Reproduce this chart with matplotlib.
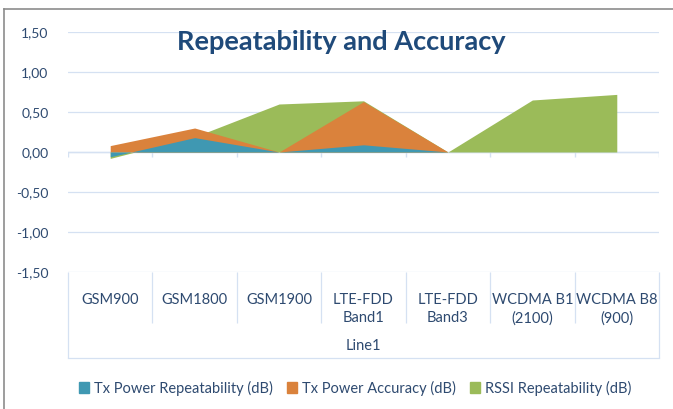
import matplotlib.pyplot as plt
import numpy as np
from matplotlib.patches import Patch

# Data
categories = ['GSM900', 'GSM1800', 'GSM1900', 'LTE-FDD\nBand1', 'LTE-FDD\nBand3',
              'WCDMA B1\n(2100)', 'WCDMA B8\n(900)']
group_label = 'Line1'
tx_rep = [-0.06, 0.18, 0.00, 0.09, 0.00, 0.00, 0.00]
tx_acc = [0.08, 0.30, 0.00, 0.63, 0.00, 0.00, 0.00]
rssi_rep = [-0.08, 0.19, 0.60, 0.64, 0.00, 0.65, 0.72]
series_names = ['Tx Power Repeatability (dB)', 'Tx Power Accuracy (dB)',
                'RSSI Repeatability (dB)']
yticks = [-1.5, -1.0, -0.5, 0.0, 0.5, 1.0, 1.5]
ytick_labels = ['-1,50', '-1,00', '-0,50', '0,00', '0,50', '1,00', '1,50']

colors = ['#3F98B2', '#DA823C', '#9BBB59']
text_col = '#2E4A70'
grid_col = '#D5E1F2'

plt.rcParams['font.family'] = ['Lato', 'DejaVu Sans']

W, H = 673, 409
fig = plt.figure(figsize=(W / 100, H / 100), dpi=100)
ax = fig.add_axes([68 / W, 1 - 272 / H, (659 - 68) / W, (272 - 32) / H])

x = np.arange(len(categories))
# back to front: RSSI, accuracy, repeatability
for vals, c in zip([rssi_rep, tx_acc, tx_rep], colors[::-1]):
    ax.fill_between(x, vals, 0, color=c, linewidth=0, zorder=3)

ax.set_xlim(-0.5, len(categories) - 0.5)
ax.set_ylim(-1.5, 1.5)
ax.set_yticks(yticks)
ax.set_yticklabels(ytick_labels, color=text_col, fontsize=10)
ax.tick_params(axis='y', length=0, pad=14)
ax.grid(axis='y', color=grid_col, linewidth=0.9, zorder=0)
for s in ax.spines.values():
    s.set_visible(False)

# category axis crossing at zero with tick marks on boundaries
bounds = np.arange(len(categories) + 1) - 0.5
ax.axhline(0, color=grid_col, linewidth=1.0, zorder=1)
ax.vlines(bounds, -0.06, 0, color=grid_col, linewidth=1.0, zorder=1)

# category labels in low position
ax.set_xticks(x)
ax.set_xticklabels(categories, color=text_col, fontsize=10.5, linespacing=1.4)
ax.tick_params(axis='x', length=0, pad=15)

tr = ax.get_xaxis_transform()
ax.vlines(bounds[1:-1], -51 / 240, 0, color=grid_col, linewidth=0.9,
          transform=tr, clip_on=False)
ax.vlines(bounds[[0, -1]], -86 / 240, 0, color=grid_col, linewidth=0.9,
          transform=tr, clip_on=False)
ax.plot([bounds[0], bounds[-1]], [-86 / 240, -86 / 240], color=grid_col,
        linewidth=0.9, transform=tr, clip_on=False)
ax.text(np.mean(x), -74 / 240, group_label, transform=tr, ha='center', va='center',
        color=text_col, fontsize=10.5)

fig.text(341 / W, 1 - 42 / H, 'Repeatability and Accuracy', fontsize=19.5,
         fontweight='bold', color='#1F4A7A', ha='center', va='center')

# outer chart border
fig.add_artist(plt.Line2D([4 / W, 4 / W], [0, 1 - 9 / H], color='#8C8C8C',
                          linewidth=1.2, transform=fig.transFigure))
fig.add_artist(plt.Line2D([4 / W, 1], [1 - 9 / H, 1 - 9 / H], color='#8C8C8C',
                          linewidth=1.2, transform=fig.transFigure))

handles = [Patch(color=c, label=n) for c, n in zip(colors, series_names)]
fig.legend(handles=handles, loc='center', bbox_to_anchor=(355 / W, 1 - 388 / H),
           ncol=3, frameon=False, fontsize=10.5, handlelength=0.7, handleheight=0.7,
           handletextpad=0.3, columnspacing=1.0, labelcolor=text_col)

fig.savefig('out.png', dpi=100)
